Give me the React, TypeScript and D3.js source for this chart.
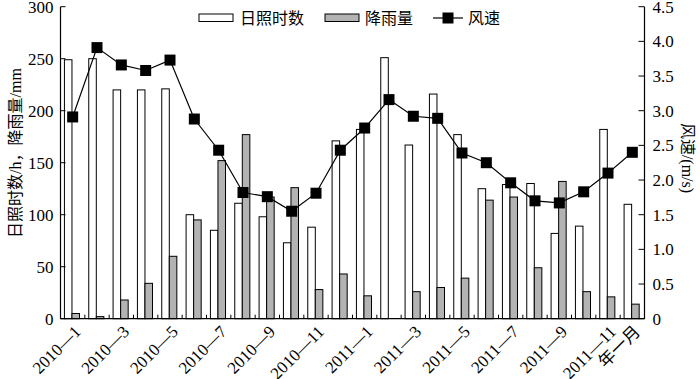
import React from "react";
import * as d3 from "d3";

const categories = [
  "2010—1", "2010—2", "2010—3", "2010—4", "2010—5", "2010—6", "2010—7", "2010—8",
  "2010—9", "2010—10", "2010—11", "2010—12", "2011—1", "2011—2", "2011—3", "2011—4",
  "2011—5", "2011—6", "2011—7", "2011—8", "2011—9", "2011—10", "2011—11", "年一月",
];
const shownLabels = [
  "2010—1", "", "2010—3", "", "2010—5", "", "2010—7", "", "2010—9", "", "2010—11", "",
  "2011—1", "", "2011—3", "", "2011—5", "", "2011—7", "", "2011—9", "", "2011—11", "年一月",
];
const sunshine = [249, 250, 220, 220, 221, 100, 85, 111, 98, 73, 88, 171, 182, 251, 167, 216, 177, 125, 129, 130, 82, 89, 182, 110];
const rainfall = [5, 2, 18, 34, 60, 95, 152, 177, 117, 126, 28, 43, 22, 0, 26, 30, 39, 114, 117, 49, 132, 26, 21, 14];
const wind = [2.91, 3.91, 3.66, 3.58, 3.73, 2.88, 2.43, 1.82, 1.76, 1.55, 1.81, 2.43, 2.75, 3.16, 2.92, 2.89, 2.39, 2.25, 1.96, 1.7, 1.67, 1.83, 2.1, 2.4];
const leftTicks = [0, 50, 100, 150, 200, 250, 300];
const rightTicks = [0, 0.5, 1.0, 1.5, 2.0, 2.5, 3.0, 3.5, 4.0, 4.5];

const W = 700, H = 379;
const L = 60.5, R = 644.5, T = 6.7, B = 318.7;
const FONT = "'Liberation Serif', 'Times New Roman', 'Noto Sans CJK SC', serif";
const GREY = "#b3b3b3";

export default function App() {
  const x = d3.scaleBand<string>().domain(categories).range([L, R]).paddingInner(0).paddingOuter(0);
  const yL = d3.scaleLinear().domain([0, 300]).range([B, T]);
  const yR = d3.scaleLinear().domain([0, 4.5]).range([B, T]);
  const bw = x.bandwidth();
  const barW = bw * 0.31;
  const line = d3.line<number>().x((_, i) => (x(categories[i]) as number) + bw / 2).y((d) => yR(d));

  return (
    <svg width={W} height={H} style={{ position: "absolute", left: 0, top: 0, background: "#fff" }} fontFamily={FONT}>
      {/* bars */}
      {categories.map((c, i) => {
        const cx = (x(c) as number) + bw / 2 - 0.7;
        return (
          <g key={c}>
            <rect x={cx - barW} y={yL(sunshine[i])} width={barW} height={B - yL(sunshine[i])} fill="#fff" stroke="#000" strokeWidth={1} />
            {rainfall[i] > 0 && (
              <rect x={cx} y={yL(rainfall[i])} width={barW} height={B - yL(rainfall[i])} fill={GREY} stroke="#000" strokeWidth={1} />
            )}
          </g>
        );
      })}
      {/* wind line */}
      <path d={line(wind) as string} fill="none" stroke="#000" strokeWidth={1.2} />
      {wind.map((v, i) => (
        <rect key={i} x={(x(categories[i]) as number) + bw / 2 - 5.5} y={yR(v) - 5.5} width={11} height={11} fill="#000" />
      ))}
      {/* axes */}
      <line x1={L} x2={L} y1={T} y2={B} stroke="#000" strokeWidth={1.2} />
      <line x1={R} x2={R} y1={T} y2={B} stroke="#000" strokeWidth={1.2} />
      <line x1={L} x2={R} y1={B} y2={B} stroke="#000" strokeWidth={1.2} />
      {leftTicks.map((t) => (
        <g key={t}>
          <line x1={L} x2={L + 5} y1={yL(t)} y2={yL(t)} stroke="#000" />
          <text x={L - 7} y={yL(t)} dy="0.35em" textAnchor="end" fontSize={17}>{t}</text>
        </g>
      ))}
      {rightTicks.map((t) => (
        <g key={t}>
          <line x1={R} x2={R - 6} y1={yR(t)} y2={yR(t)} stroke="#000" />
          <text x={R + 8} y={yR(t)} dy="0.35em" textAnchor="start" fontSize={17}>{t === 0 ? "0" : t.toFixed(1)}</text>
        </g>
      ))}
      {categories.slice(1).map((c) => (
        <line key={c} x1={x(c) as number} x2={x(c) as number} y1={B} y2={B - 4} stroke="#000" />
      ))}
      {categories.map((c, i) =>
        shownLabels[i] ? (
          <text key={c} transform={`translate(${(x(c) as number) + bw / 2 + 9},${B + 14}) rotate(-45)`} textAnchor="end" fontSize={17}>
            {shownLabels[i]}
          </text>
        ) : null
      )}
      {/* axis titles */}
      <text transform={`translate(21,153) rotate(-90)`} textAnchor="middle" fontSize={16}>日照时数/h，降雨量/mm</text>
      <text transform={`translate(682,158) rotate(90)`} textAnchor="middle" fontSize={16}>风速/(m/s)</text>
      {/* legend */}
      <rect x={199} y={14} width={34} height={7.5} fill="#fff" stroke="#000" />
      <text x={240} y={24} fontSize={16}>日照时数</text>
      <rect x={325} y={14} width={34} height={7.5} fill={GREY} stroke="#000" />
      <text x={365} y={24} fontSize={16}>降雨量</text>
      <line x1={433} x2={463} y1={18} y2={18} stroke="#000" strokeWidth={1.2} />
      <rect x={442.5} y={12.5} width={11} height={11} fill="#000" />
      <text x={468} y={24} fontSize={16}>风速</text>
    </svg>
  );
}
